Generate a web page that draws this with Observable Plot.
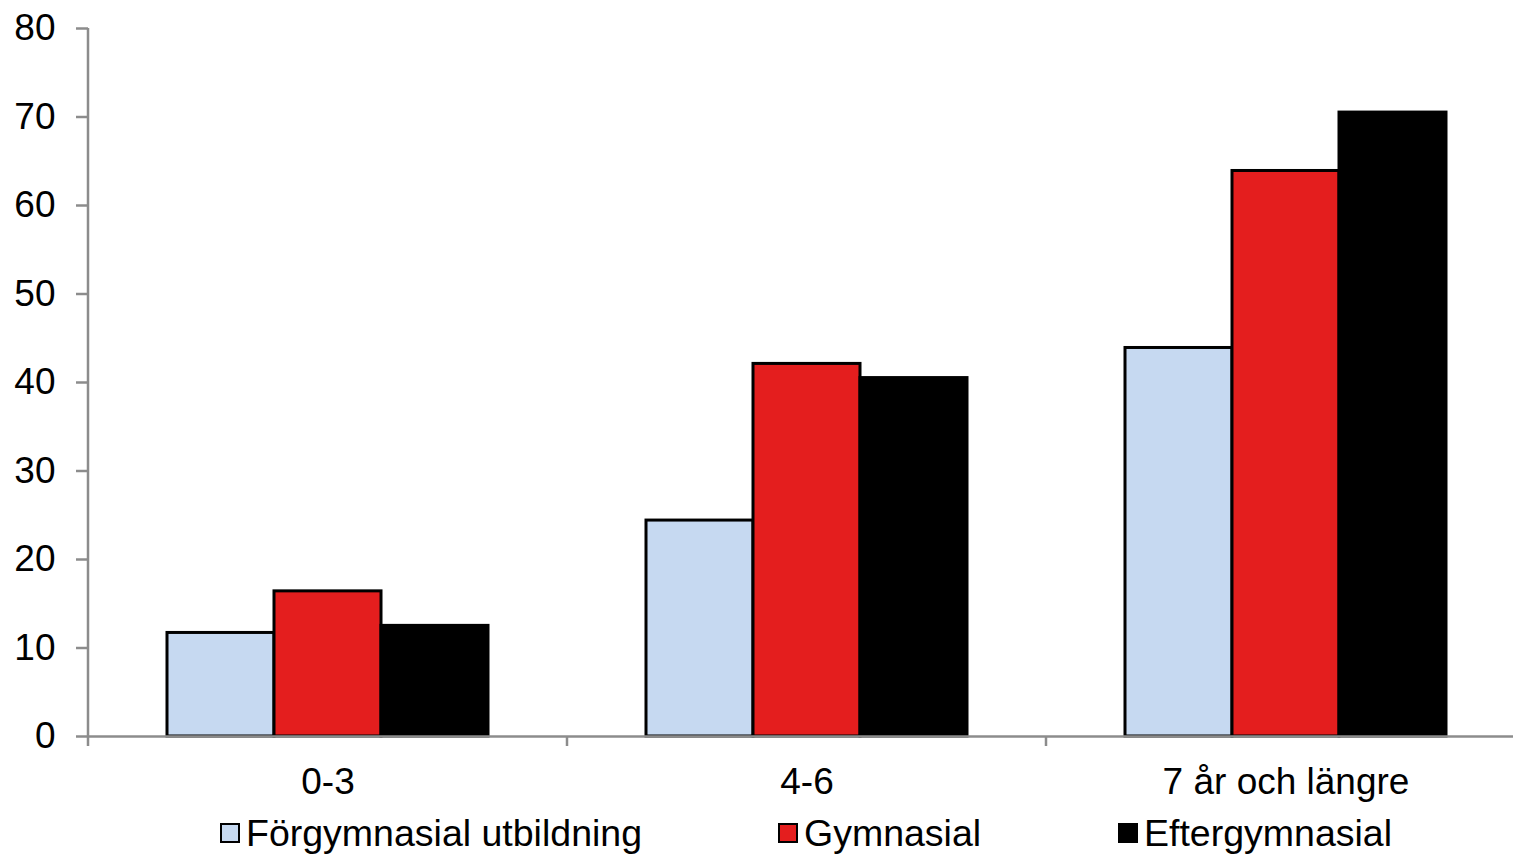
<!DOCTYPE html>
<html><head><meta charset="utf-8">
<script src="https://cdn.jsdelivr.net/npm/d3@7"></script>
<script src="https://cdn.jsdelivr.net/npm/@observablehq/plot@0.6"></script>
<style>
body{margin:0;background:#fff;font-family:"Liberation Sans",Arial,sans-serif;}
#legend{position:relative;height:50px;font-size:37.5px;color:#000;}
.item{position:absolute;top:8px;height:40px;line-height:40px;display:flex;align-items:center;white-space:nowrap;}
.sw{width:16px;height:16px;border:2px solid #000;margin-right:6px;box-sizing:content-box;}
</style></head>
<body><div id="chart"></div><div id="legend"></div>
<script>
const groups = ["0-3", "4-6", "7 år och längre"];
const series = ["Förgymnasial utbildning", "Gymnasial", "Eftergymnasial"];
const forgymnasial = [11.7, 24.4, 43.9];
const gymnasial = [16.4, 42.1, 63.9];
const eftergymnasial = [12.5, 40.5, 70.5];
const yTicks = [0, 10, 20, 30, 40, 50, 60, 70, 80];
const colors = ["#C6D9F1", "#E41E1E", "#000000"];

const valuesBySeries = [forgymnasial, gymnasial, eftergymnasial];
const data = groups.flatMap((g, i) => series.map((s, j) => ({group: g, series: s, value: valuesBySeries[j][i]})));

const W = 1513, H = 805;
const plot = Plot.plot({
  width: W, height: H,
  marginLeft: 88, marginRight: -12, marginTop: 28, marginBottom: 69,
  style: {fontFamily: "Liberation Sans, Arial, sans-serif", background: "#fff"},
  fx: {domain: groups, padding: 0, label: null},
  x: {domain: series, paddingInner: 0, paddingOuter: 0.738, axis: null},
  y: {domain: [0, 80], label: null},
  color: {domain: series, range: colors},
  marks: [
    Plot.barY(data, {fx: "group", x: "series", y: "value", fill: "series", stroke: "#000", strokeWidth: 3, inset: 0}),
    Plot.ruleY([0], {stroke: "#8c8c8c", strokeWidth: 2.5}),
    Plot.axisY({ticks: yTicks, tickSize: 12, tickPadding: 21, fontSize: 37, stroke: "#8c8c8c", strokeWidth: 2.5, fill: "#000", label: null}),
    Plot.axisFx({anchor: "bottom", tickSize: 0, tickPadding: 31, fontSize: 37, fill: "#000", label: null})
  ]
});
document.getElementById("chart").appendChild(plot);

// axis line and group-boundary ticks, placed through the plot's own scales
const fx = plot.scale("fx"), y = plot.scale("y");
const svg = d3.select(plot);
const y0 = y.apply(0);
svg.append("line")
  .attr("x1", fx.apply(groups[0])).attr("x2", fx.apply(groups[0]))
  .attr("y1", y.apply(80)).attr("y2", y0 + 10)
  .attr("stroke", "#8c8c8c").attr("stroke-width", 2.5);
groups.slice(1).forEach(g => {
  svg.append("line")
    .attr("x1", fx.apply(g)).attr("x2", fx.apply(g))
    .attr("y1", y0).attr("y2", y0 + 10)
    .attr("stroke", "#8c8c8c").attr("stroke-width", 2.5);
});

// legend
const legendLeft = [220, 778, 1118];
const legend = document.getElementById("legend");
series.forEach((s, i) => {
  const item = document.createElement("div");
  item.className = "item";
  item.style.left = legendLeft[i] + "px";
  const sw = document.createElement("span");
  sw.className = "sw";
  sw.style.background = colors[i];
  const t = document.createElement("span");
  t.textContent = s;
  item.appendChild(sw); item.appendChild(t);
  legend.appendChild(item);
});
</script></body></html>
